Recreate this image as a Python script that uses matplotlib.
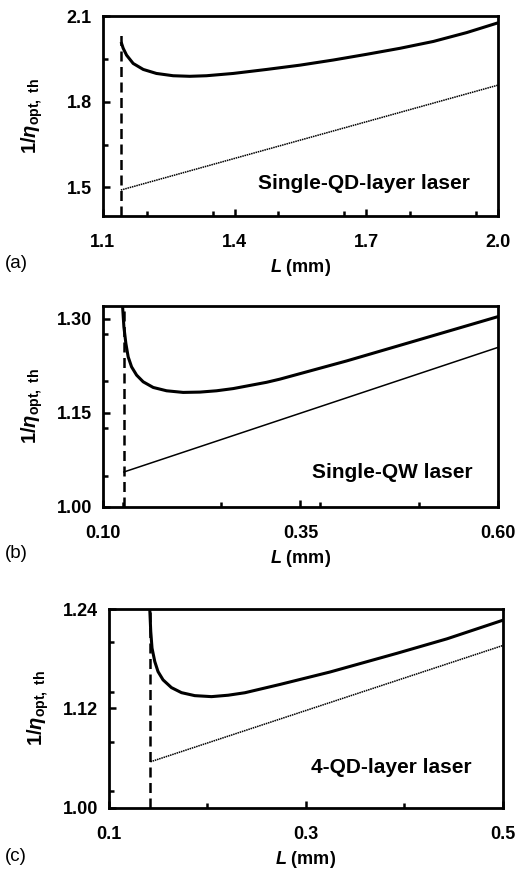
import matplotlib.pyplot as plt
from matplotlib.ticker import FixedLocator, MultipleLocator, FormatStrFormatter

plt.rcParams['font.family'] = ['Liberation Sans', 'DejaVu Sans']
plt.rcParams['mathtext.fontset'] = 'custom'
plt.rcParams['mathtext.rm'] = 'Liberation Sans:bold'
plt.rcParams['mathtext.bf'] = 'Liberation Sans:bold'
plt.rcParams['mathtext.it'] = 'Liberation Sans:italic:bold'

# (a) single QD layer
a_L = [1.1426, 1.1463, 1.154, 1.169, 1.192, 1.222, 1.260, 1.298, 1.336, 1.397,
       1.473, 1.549, 1.625, 1.701, 1.777, 1.853, 1.929, 2.00]
a_top = [2.004, 1.987, 1.963, 1.934, 1.913, 1.899, 1.891, 1.889, 1.891, 1.899,
         1.913, 1.928, 1.946, 1.966, 1.987, 2.011, 2.042, 2.076]
a_low_L = [1.141, 2.00]
a_low = [1.491, 1.858]
a_cut = 1.141
a_cut_top = 2.05

# (b) single QW
b_L = [0.1249, 0.1266, 0.1291, 0.132, 0.1363, 0.1427, 0.151, 0.1637, 0.1806, 0.2016,
       0.2228, 0.2439, 0.265, 0.3072, 0.324, 0.4085, 0.4928, 0.60]
b_top = [1.320, 1.2867, 1.2603, 1.239, 1.2231, 1.2099, 1.1993, 1.1903, 1.185, 1.1824,
         1.1829, 1.185, 1.1885, 1.1985, 1.2035, 1.2325, 1.2635, 1.303]
b_low_L = [0.1266, 0.60]
b_low = [1.0557, 1.254]
b_cut = 0.1266
b_cut_top = 1.32

# (c) 4 QD layers
c_L = [0.1414, 0.1424, 0.1437, 0.1465, 0.1498, 0.1549, 0.1634, 0.1736, 0.1871, 0.2041,
       0.221, 0.238, 0.2736, 0.3244, 0.3922, 0.4431, 0.50]
c_top = [1.240, 1.2129, 1.1928, 1.1766, 1.1645, 1.1545, 1.1452, 1.1391, 1.1355, 1.1343,
         1.136, 1.139, 1.149, 1.164, 1.1865, 1.204, 1.2265]
c_low_L = [0.1421, 0.50]
c_low = [1.0557, 1.196]
c_cut = 0.1421
c_cut_top = 1.24

panels = [
    dict(L=a_L, top=a_top, lowL=a_low_L, low=a_low, cut=a_cut, cut_top=a_cut_top,
         lowstyle=(0, (1, 0.5)),
         xlim=(1.1, 2.0), ylim=(1.4, 2.1), xt=[1.1, 1.4, 1.7, 2.0], yt=[1.5, 1.8, 2.1],
         xm=0.15, ym=0.15, xf='%.1f', yf='%.1f', label='Single-QD-layer laser',
         tag='(a)', tagpos=(-0.248, -0.235),
         rect=[0.199, 0.7531, 0.764, 0.2286], txt=(0.929, 0.165)),
    dict(L=b_L, top=b_top, lowL=b_low_L, low=b_low, cut=b_cut, cut_top=b_cut_top,
         lowstyle='-',
         xlim=(0.1, 0.6), ylim=(1.0, 1.32), xt=[0.10, 0.35, 0.60], yt=[1.00, 1.15, 1.30],
         xm=0.125, ym=0.075, xf='%.2f', yf='%.2f', label='Single-QW laser',
         tag='(b)', tagpos=(-0.248, -0.229),
         rect=[0.199, 0.4206, 0.764, 0.2297], txt=(0.937, 0.174)),
    dict(L=c_L, top=c_top, lowL=c_low_L, low=c_low, cut=c_cut, cut_top=c_cut_top,
         lowstyle=(0, (1, 0.5)),
         xlim=(0.1, 0.5), ylim=(1.0, 1.24), xt=[0.1, 0.3, 0.5], yt=[1.00, 1.12, 1.24],
         xm=0.1, ym=0.06, xf='%.1f', yf='%.2f', label='4-QD-layer laser',
         tag='(c)', tagpos=(-0.264, -0.246),
         rect=[0.2108, 0.0766, 0.762, 0.2274], txt=(0.921, 0.201)),
]

fig = plt.figure(figsize=(5.17, 8.75), dpi=100)

for p in panels:
    ax = fig.add_axes(p['rect'])
    ax.plot(p['L'], p['top'], color='black', lw=2.2, solid_joinstyle='round')
    ax.plot(p['lowL'], p['low'], color='black', lw=1.1, linestyle=p['lowstyle'])
    ax.plot([p['cut'], p['cut']], [p['ylim'][0], p['cut_top']],
            color='black', lw=1.8, linestyle=(0, (4, 2.2)))
    ax.set_xlim(*p['xlim'])
    ax.set_ylim(*p['ylim'])
    ax.xaxis.set_major_locator(FixedLocator(p['xt']))
    ax.yaxis.set_major_locator(FixedLocator(p['yt']))
    ax.xaxis.set_minor_locator(MultipleLocator(p['xm']))
    ax.yaxis.set_minor_locator(MultipleLocator(p['ym']))
    ax.xaxis.set_major_formatter(FormatStrFormatter(p['xf']))
    ax.yaxis.set_major_formatter(FormatStrFormatter(p['yf']))
    for s in ax.spines.values():
        s.set_linewidth(2.0)
    ax.tick_params(which='both', direction='in', top=False, right=False, width=1.8)
    ax.tick_params(which='major', length=5)
    ax.tick_params(which='minor', length=3.5)
    ax.tick_params(axis='x', which='major', pad=13, labelsize=13)
    ax.tick_params(axis='y', which='major', pad=8, labelsize=13)
    for t in ax.get_xticklabels() + ax.get_yticklabels():
        t.set_fontweight('bold')
    ax.set_xlabel(r'$L$ (mm)', fontsize=13, fontweight='bold', labelpad=4)
    ax.set_ylabel(r'$\mathbf{1/}\eta_{\mathbf{opt,\ th}}$', fontsize=14.5, va='center')
    ax.yaxis.set_label_coords(-0.18, 0.5)
    ax.text(p['txt'][0], p['txt'][1], p['label'], transform=ax.transAxes,
            ha='right', va='center', fontsize=15, fontweight='bold')
    ax.text(p['tagpos'][0], p['tagpos'][1], p['tag'], transform=ax.transAxes,
            ha='left', va='center', fontsize=13.5)

fig.savefig('out.png', dpi=100)
